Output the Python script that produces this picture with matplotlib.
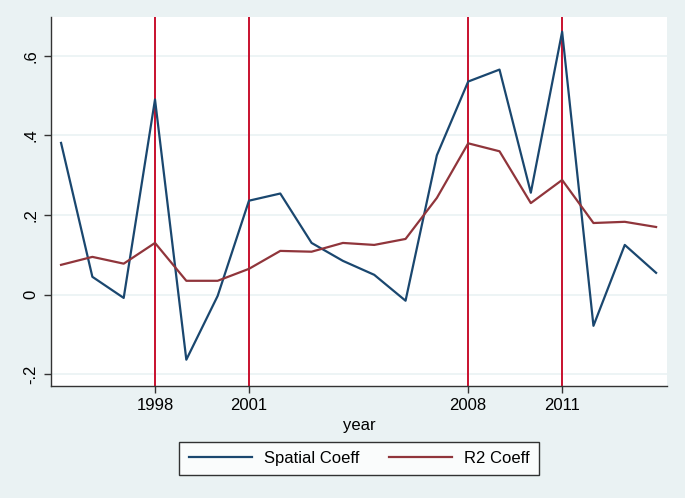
import matplotlib.pyplot as plt
import numpy as np

# data
years = np.arange(1995, 2015)
spatial_coeff = [0.381, 0.045, -0.008, 0.49, -0.163, -0.003, 0.236, 0.254, 0.13, 0.085,
                 0.05, -0.015, 0.35, 0.535, 0.565, 0.256, 0.66, -0.078, 0.125, 0.055]
r2_coeff = [0.075, 0.095, 0.078, 0.13, 0.035, 0.035, 0.065, 0.11, 0.108, 0.13,
            0.125, 0.14, 0.243, 0.38, 0.36, 0.23, 0.288, 0.18, 0.183, 0.17]
mark_years = [1998, 2001, 2008, 2011]
y_ticks = [-0.2, 0, 0.2, 0.4, 0.6]
y_labels = ['-.2', '0', '.2', '.4', '.6']

plt.rcParams['font.family'] = ['Liberation Sans', 'DejaVu Sans']

bg = '#EAF2F3'
fig = plt.figure(figsize=(6.85, 4.98), dpi=100, facecolor=bg)
ax = fig.add_axes([0.0745, 0.2249, 0.8993, 0.741])
ax.set_facecolor('white')

for g in y_ticks:
    ax.axhline(g, color='#EAF2F3', lw=1.2, zorder=1)

ax.plot(years, spatial_coeff, color='#1A476F', lw=1.6, label='Spatial Coeff', zorder=3)
ax.plot(years, r2_coeff, color='#90353B', lw=1.6, label='R2 Coeff', zorder=3)
for yr in mark_years:
    ax.axvline(yr, color='#C8102E', lw=1.4, zorder=2)

ax.set_xlim(1994.68, 2014.35)
ax.set_ylim(-0.229, 0.697)
ax.set_xticks(mark_years)
ax.set_xticklabels([str(y) for y in mark_years], fontsize=12)
ax.set_yticks(y_ticks)
ax.set_yticklabels(y_labels, fontsize=12, rotation=90, va='center')
ax.tick_params(direction='out', length=5, width=1, color='#333333', pad=4)
ax.set_xlabel('year', fontsize=12, labelpad=3)

for s in ['top', 'right']:
    ax.spines[s].set_visible(False)
for s in ['left', 'bottom']:
    ax.spines[s].set_color('#333333')
    ax.spines[s].set_linewidth(1)

leg = ax.legend(loc='upper center', bbox_to_anchor=(0.5, -0.152), ncol=2, fontsize=12,
                frameon=True, fancybox=False, edgecolor='black', handlelength=3.8,
                columnspacing=1.8, borderpad=0.55, handletextpad=0.7, borderaxespad=0)
leg.get_frame().set_linewidth(1)

fig.savefig('out.png', dpi=100, facecolor=bg)
